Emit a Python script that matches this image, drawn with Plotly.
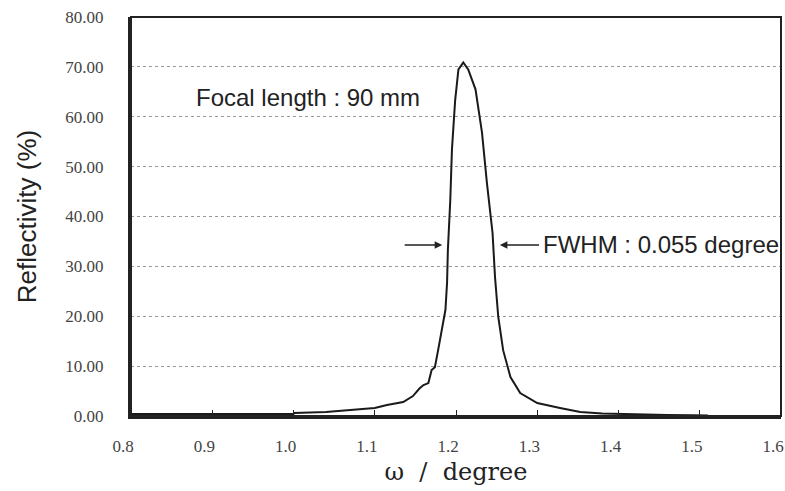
import plotly.graph_objects as go

omega = [0.80, 0.90, 1.00, 1.001, 1.04, 1.07, 1.10, 1.115, 1.135, 1.147, 1.155, 1.160, 1.166,
         1.170, 1.174, 1.178, 1.183, 1.187, 1.189, 1.190, 1.193, 1.195, 1.199, 1.203, 1.209,
         1.215, 1.224, 1.232, 1.238, 1.245, 1.248, 1.252, 1.258, 1.267, 1.279, 1.300, 1.328,
         1.353, 1.38, 1.42, 1.46, 1.49, 1.51]
reflectivity = [0.4, 0.4, 0.4, 0.6, 0.8, 1.2, 1.6, 2.2, 2.8, 4.0, 5.5, 6.2, 6.6,
                9.2, 9.8, 13.2, 17.8, 21.3, 26.7, 33.3, 43.4, 53.4, 63.4, 69.5, 70.9,
                69.5, 65.5, 56.8, 46.8, 36.7, 27.9, 19.9, 13.2, 7.8, 4.6, 2.6, 1.6,
                0.8, 0.5, 0.3, 0.2, 0.15, 0.1]

fwhm_left = [1.135, 1.183]
fwhm_right = [1.304, 1.254]
fwhm_level = 34.3
fwhm_text_x = 1.305
focal_text_x = 0.877
focal_text_y = 63.9

fig = go.Figure()
fig.add_trace(go.Scatter(x=omega, y=reflectivity, mode="lines",
                         line=dict(color="#1a1a1a", width=2), showlegend=False))

fig.add_annotation(x=fwhm_left[1], y=fwhm_level, ax=fwhm_left[0], ay=fwhm_level,
                   xref="x", yref="y", axref="x", ayref="y", text="",
                   showarrow=True, arrowhead=2, arrowsize=1, arrowwidth=1.5, arrowcolor="#222")
fig.add_annotation(x=fwhm_right[1], y=fwhm_level, ax=fwhm_right[0], ay=fwhm_level,
                   xref="x", yref="y", axref="x", ayref="y", text="",
                   showarrow=True, arrowhead=2, arrowsize=1, arrowwidth=1.5, arrowcolor="#222")
fig.add_annotation(x=fwhm_text_x, y=fwhm_level, xref="x", yref="y", text="FWHM : 0.055 degree",
                   showarrow=False, xanchor="left", yanchor="middle",
                   font=dict(family="Liberation Sans, Arial", size=24, color="#222"))
fig.add_annotation(x=focal_text_x, y=focal_text_y, xref="x", yref="y", text="Focal length : 90 mm",
                   showarrow=False, xanchor="left", yanchor="middle",
                   font=dict(family="Liberation Sans, Arial", size=24, color="#222"))

fig.add_shape(type="rect", xref="paper", yref="paper", x0=0, y0=0, x1=1, y1=1,
              line=dict(color="#222", width=2), layer="above")

fig.update_layout(
    width=785, height=491,
    margin=dict(l=131, r=4, t=17, b=75),
    paper_bgcolor="white", plot_bgcolor="white",
    xaxis=dict(range=[0.8, 1.6], dtick=0.1, tick0=0.8, tickformat=".1f",
               automargin=False, ticklabeloverflow="allow",
               showgrid=False, zeroline=False,
               showline=True, linecolor="#222", linewidth=3,
               ticks="inside", ticklen=6, tickcolor="#222", tickwidth=1,
               ticklabelstandoff=13, ticklabelshift=-8,
               tickfont=dict(family="Liberation Serif", size=17, color="#444"),
               title=dict(text="ω  /  degree", standoff=8,
                          font=dict(family="DejaVu Serif", size=24, color="#222"))),
    yaxis=dict(range=[0, 80], dtick=10, tickformat=".2f",
               automargin=False, ticklabeloverflow="allow",
               showgrid=True, gridcolor="#999", griddash="dot", gridwidth=1,
               zeroline=False, showline=True, linecolor="#222", linewidth=3,
               ticks="", ticklabelstandoff=21,
               tickfont=dict(family="Liberation Serif", size=17, color="#444"),
               title=dict(text="Reflectivity (%)", standoff=22,
                          font=dict(family="Liberation Sans, Arial", size=26, color="#222"))),
)

# remove the default 8px page margin so the figure sits at the window's top-left corner
fig.write_html("out.html", config={"displayModeBar": False},
               post_script="document.body.style.margin='0';document.body.style.overflow='hidden';")
